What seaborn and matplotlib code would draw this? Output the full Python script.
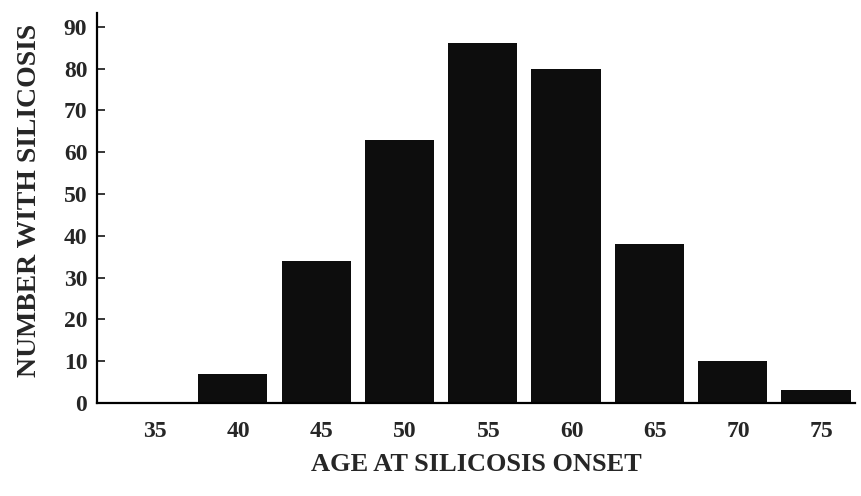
import matplotlib.pyplot as plt
import numpy as np
import pandas as pd
import seaborn as sns

# Werte
ages = [35, 40, 45, 50, 55, 60, 65, 70, 75]
counts = [0, 7, 34, 63, 86, 80, 38, 10, 3]
y_ticks = [0, 10, 20, 30, 40, 50, 60, 70, 80, 90]

df = pd.DataFrame({"age": [str(a) for a in ages], "n": counts})

sns.set_style("white")
plt.rcParams["font.family"] = ["Liberation Serif", "DejaVu Serif"]
plt.rcParams["font.weight"] = "bold"

fig = plt.figure(figsize=(8.62, 4.96), dpi=100)
ax = fig.add_axes([0.1125, 0.1875, 0.8795, 0.7865])

sns.barplot(data=df, x="age", y="n", color="#0d0d0d", saturation=1,
            width=0.83, ax=ax)
# Balken in der Vorlage leicht links von den Beschriftungen
for p in ax.patches:
    p.set_x(p.get_x() - 0.07)
    p.set_edgecolor("none")

ax.set_xlim(-0.7, 8.4)
ax.set_ylim(0, 93.3)
ax.set_yticks(y_ticks)

for side in ["top", "right"]:
    ax.spines[side].set_visible(False)
for side in ["left", "bottom"]:
    ax.spines[side].set_linewidth(1.6)
    ax.spines[side].set_color("black")

ax.tick_params(axis="y", direction="in", length=6, width=1.3, pad=7,
               labelsize=17, left=True)
ax.tick_params(axis="x", length=0, pad=13, labelsize=17)
for lbl in ax.get_xticklabels() + ax.get_yticklabels():
    lbl.set_fontweight("bold")

ax.set_xlabel("AGE AT SILICOSIS ONSET", fontsize=19, fontweight="bold",
              labelpad=8)
ax.set_ylabel("NUMBER WITH SILICOSIS", fontsize=20, fontweight="bold")
ax.yaxis.set_label_coords(-0.073, 0.52)

plt.savefig("out.png", dpi=100)
plt.close()
